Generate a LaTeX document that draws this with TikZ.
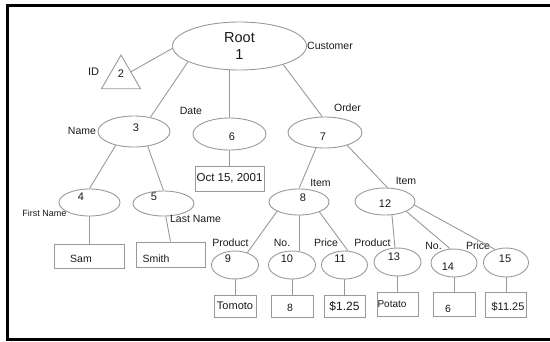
\documentclass[tikz,border=0pt]{standalone}
\usepackage{fontspec}
\setmainfont{Liberation Sans}
\usetikzlibrary{shapes.geometric}
\definecolor{linegray}{gray}{0.6}
\definecolor{inkgray}{gray}{0.1}
\begin{document}
\begin{tikzpicture}[x=1pt,y=-1pt,
        elem/.style={draw=linegray,line width=0.9pt,ellipse,inner sep=0pt},
        val/.style={draw=linegray,line width=0.9pt,rectangle,inner sep=0pt,minimum width=42pt,minimum height=23pt,text=inkgray,font=\fontsize{11}{13}\selectfont},
        lbl/.style={inner sep=0pt,text=inkgray,font=\fontsize{10.5}{12}\selectfont},
        lblnum/.style={inner sep=0pt,text=inkgray,font=\fontsize{11}{13}\selectfont},
        num/.style n args={3}{label={[lblnum,xshift=#1,yshift=#2]center:#3}},
        link/.style={draw=linegray,line width=0.9pt}]
    \useasboundingbox (0,0) rectangle (550,341);
    \draw[line width=3pt] (550,5.5) -- (7.5,5.5) -- (7.5,339.5) -- (550,339.5);

    \node[elem,minimum width=134pt,minimum height=48pt,align=center,text=inkgray,font=\fontsize{14.5}{16.5}\selectfont] (root) at (239.5,46) {Root\\1};
    \node[draw=linegray,line width=0.9pt,regular polygon,regular polygon sides=3,minimum size=45pt,inner sep=0pt,num={0pt}{3.5pt}{2}] (id2) at (121,77.5) {};
    \node[elem,minimum width=72pt,minimum height=31pt,num={2pt}{3.5pt}{3}] (n3) at (134,131.5) {};
    \node[elem,minimum width=73pt,minimum height=32pt,num={2.5pt}{-3pt}{6}] (n6) at (229.5,134) {};
    \node[elem,minimum width=74pt,minimum height=31pt,num={-2pt}{-4.5pt}{7}] (n7) at (325,132.5) {};
    \node[elem,minimum width=61pt,minimum height=27pt,num={-8.5pt}{5.5pt}{4}] (n4) at (89.5,202.5) {};
    \node[elem,minimum width=61pt,minimum height=25pt,num={-9.5pt}{6.5pt}{5}] (n5) at (163.5,203.5) {};
    \node[elem,minimum width=60pt,minimum height=26pt,num={4pt}{4pt}{8}] (n8) at (299,202) {};
    \node[elem,minimum width=60pt,minimum height=27pt,num={0pt}{-2.5pt}{12}] (n12) at (385,201.5) {};
    \node[elem,minimum width=47pt,minimum height=28pt,num={-7pt}{6pt}{9}] (n9) at (235,265) {};
    \node[elem,minimum width=47pt,minimum height=28pt,num={-5pt}{6pt}{10}] (n10) at (292,265) {};
    \node[elem,minimum width=46pt,minimum height=28pt,num={-4.5pt}{6pt}{11}] (n11) at (344.5,265) {};
    \node[elem,minimum width=47pt,minimum height=28pt,num={-3.5pt}{5pt}{13}] (n13) at (397.5,262) {};
    \node[elem,minimum width=46pt,minimum height=28pt,num={-6pt}{-4pt}{14}] (n14) at (454,263) {};
    \node[elem,minimum width=45pt,minimum height=29pt,num={-1pt}{3.5pt}{15}] (n15) at (506,262.5) {};

    \node[val,minimum width=69pt,minimum height=25pt,font=\fontsize{11.5}{13}\selectfont] (oct) at (229.5,178.5) {Oct 15, 2001};
    \node[val,minimum width=70pt,minimum height=24pt,label={[lblnum,font=\fontsize{10.5}{12}\selectfont,xshift=-8.5pt,yshift=-3pt]center:Sam}] (sam) at (89.5,256) {};
    \node[val,minimum width=69pt,minimum height=25pt,label={[lblnum,font=\fontsize{10.5}{12}\selectfont,xshift=-14.5pt,yshift=-4.5pt]center:Smith}] (smith) at (170.5,254.5) {};
    \node[val,minimum height=22pt] (tomoto) at (235,306) {Tomoto};
    \node[val,minimum height=22pt,label={[lblnum,font=\fontsize{10.5}{12}\selectfont,xshift=-2pt,yshift=-2pt]center:8}] (eight) at (292,306) {};
    \node[val,minimum width=41pt,minimum height=22pt,font=\fontsize{12}{14}\selectfont] (price) at (344.5,306) {\$1.25};
    \node[val,minimum width=41pt,minimum height=24pt,label={[lblnum,font=\fontsize{10}{12}\selectfont,xshift=-5.5pt]center:Potato}] (potato) at (397.5,304) {};
    \node[val,minimum height=24pt,label={[lblnum,font=\fontsize{10.5}{12}\selectfont,xshift=-6pt,yshift=-5pt]center:6}] (six) at (454,304) {};
    \node[val,minimum width=41pt,minimum height=25pt,label={[lblnum,xshift=2pt,yshift=-2.5pt]center:\$11.25}] (pricetwo) at (506,304.5) {};

    \node[lbl,font=\fontsize{11}{13}\selectfont] (tid) at (93.5,72) {ID};
    \node[lbl] (tcust) at (330,46) {Customer};
    \node[lbl] (tdate) at (191,111) {Date};
    \node[lbl] (tname) at (82,131) {Name};
    \node[lbl] (torder) at (347.5,108) {Order};
    \node[lbl] (titem) at (320.5,183) {Item};
    \node[lbl] (titemtwo) at (406,181) {Item};
    \node[lbl,font=\fontsize{9}{11}\selectfont] (tfirst) at (44.5,213) {First Name};
    \node[lbl] (tlast) at (195.5,219) {Last Name};
    \node[lbl] (tprod) at (230.5,243) {Product};
    \node[lbl] (tno) at (282,243) {No.};
    \node[lbl] (tprice) at (326,243) {Price};
    \node[lbl] (tprodtwo) at (372.5,243) {Product};
    \node[lbl] (tnotwo) at (433.5,246) {No.};
    \node[lbl] (tpricetwo) at (478,246) {Price};

    \draw[link] (root.182) -- (id2.30);
    \draw[link] (root.197) -- (n3.41);
    \draw[link] (n6 |- root.south) -- (n6);
    \draw[link] (root.337) -- (n7.100);
    \draw[link] (n3.217) -- (n4.north);
    \draw[link] (n3.313) -- (n5.north);
    \draw[link] (n5.280) -- (smith.north);
    \draw[link] (n7.240) -- (n8.north);
    \draw[link] (n7.330) -- (n12.80);
    \draw[link] (n8.203) -- (n9.45);
    \draw[link] (n8.south) -- (n8.south |- n10.north);
    \draw[link] (n8.334) -- (n11.77);
    \draw[link] (n12.297) -- (n13.100);
    \draw[link] (n12.335) -- (n14.105);
    \draw[link] (n12.353) -- (n15.130);
    \foreach \a/\b in {n4/sam,n6/oct,n9/tomoto,n10/eight,n11/price,n13/potato,n14/six,n15/pricetwo}
        \draw[link] (\a) -- (\b);
\end{tikzpicture}
\end{document}
